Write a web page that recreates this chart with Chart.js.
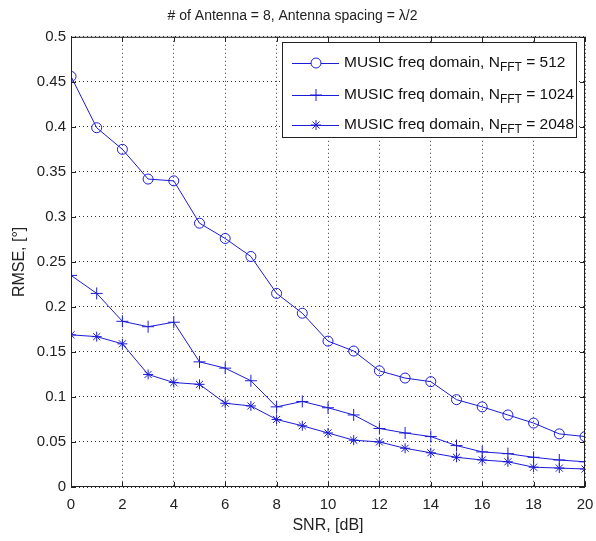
<!DOCTYPE html>
<html>
<head>
<meta charset="utf-8">
<script src="https://cdn.jsdelivr.net/npm/chart.js@4"></script>
<style>
  html, body { margin: 0; padding: 0; background: #fff; }
  #wrap { width: 596px; height: 541px; }
</style>
</head>
<body>
<div id="wrap"><canvas id="grafik" width="596" height="541"></canvas></div>
<script>
// SNR noktaları (dB)
const snrDegerleri = [0, 1, 2, 3, 4, 5, 6, 7, 8, 9, 10, 11, 12, 13, 14, 15, 16, 17, 18, 19, 20];

// RMSE değerleri, her N_FFT için
const rmse512 = [0.456, 0.399, 0.375, 0.342, 0.340, 0.293, 0.276, 0.256, 0.215, 0.193, 0.162, 0.151, 0.129, 0.121, 0.117, 0.097, 0.089, 0.080, 0.071, 0.059, 0.056];
const rmse1024 = [0.235, 0.215, 0.184, 0.178, 0.183, 0.139, 0.132, 0.118, 0.089, 0.095, 0.088, 0.080, 0.065, 0.060, 0.056, 0.046, 0.039, 0.037, 0.033, 0.030, 0.028];
const rmse2048 = [0.169, 0.167, 0.159, 0.125, 0.116, 0.114, 0.093, 0.090, 0.075, 0.068, 0.060, 0.052, 0.050, 0.043, 0.038, 0.033, 0.030, 0.028, 0.022, 0.021, 0.020];

const seriEtiketleri = ['512', '1024', '2048'];
const xTikleri = [0, 2, 4, 6, 8, 10, 12, 14, 16, 18, 20];
const yTikleri = [0, 0.05, 0.1, 0.15, 0.2, 0.25, 0.3, 0.35, 0.4, 0.45, 0.5];

const mavi = 'rgb(28,28,215)';
const yazıTipi = '"Liberation Sans", Arial, sans-serif';

// Matlab tarzı kutu ve içe dönük tik çizgileri
const kutuEklentisi = {
  id: 'kutu',
  afterDraw(chart) {
    const ctx = chart.ctx;
    const a = chart.chartArea;
    const xs = chart.scales.x, ys = chart.scales.y;
    ctx.save();
    ctx.strokeStyle = '#222';
    ctx.lineWidth = 1;
    ctx.strokeRect(a.left + 0.5, a.top + 0.5, a.right - a.left - 1, a.bottom - a.top - 1);
    ctx.beginPath();
    xTikleri.forEach(v => {
      const px = Math.round(xs.getPixelForValue(v)) + 0.5;
      ctx.moveTo(px, a.bottom); ctx.lineTo(px, a.bottom - 5);
      ctx.moveTo(px, a.top); ctx.lineTo(px, a.top + 5);
    });
    yTikleri.forEach(v => {
      const py = Math.round(ys.getPixelForValue(v)) + 0.5;
      ctx.moveTo(a.left, py); ctx.lineTo(a.left + 5, py);
      ctx.moveTo(a.right, py); ctx.lineTo(a.right - 5, py);
    });
    ctx.stroke();
    ctx.restore();
  }
};

// Alt simgeli (N_FFT) lejant
const lejantEklentisi = {
  id: 'lejant',
  afterDraw(chart) {
    const ctx = chart.ctx;
    const kx = 282, ky = 42, kw = 295, kh = 96;
    ctx.save();
    ctx.fillStyle = '#fff';
    ctx.fillRect(kx, ky, kw, kh);
    ctx.strokeStyle = '#222';
    ctx.lineWidth = 1;
    ctx.strokeRect(kx + 0.5, ky + 0.5, kw - 1, kh - 1);
    const satirlar = [63, 95, 125];
    chart.data.datasets.forEach((ds, i) => {
      const y = satirlar[i];
      ctx.strokeStyle = mavi;
      ctx.lineWidth = 1;
      ctx.beginPath();
      ctx.moveTo(292, y + 0.5);
      ctx.lineTo(339, y + 0.5);
      ctx.stroke();
      Chart.helpers.drawPoint(ctx, {
        pointStyle: ds.pointStyle, radius: ds.pointRadius, borderWidth: 1, rotation: 0
      }, 316, y);
      ctx.fillStyle = '#111';
      ctx.textBaseline = 'middle';
      ctx.font = '15.5px ' + yazıTipi;
      const ana = 'MUSIC freq domain, N';
      ctx.fillText(ana, 344, y);
      let x = 344 + ctx.measureText(ana).width;
      ctx.font = '12px ' + yazıTipi;
      ctx.fillText('FFT', x, y + 5);
      x += ctx.measureText('FFT').width;
      ctx.font = '15.5px ' + yazıTipi;
      ctx.fillText(' = ' + seriEtiketleri[i], x, y);
    });
    ctx.restore();
  }
};

function seri(veri, stil, yaricap) {
  return {
    label: 'MUSIC freq domain, N_FFT',
    data: veri,
    borderColor: mavi,
    backgroundColor: 'rgba(0,0,0,0)',
    borderWidth: 1,
    pointStyle: stil,
    pointRadius: yaricap,
    pointBorderColor: mavi,
    pointBackgroundColor: 'rgba(0,0,0,0)',
    pointBorderWidth: 1,
    tension: 0
  };
}

new Chart(document.getElementById('grafik'), {
  type: 'line',
  data: {
    labels: snrDegerleri,
    datasets: [
      seri(rmse512, 'circle', 5),
      seri(rmse1024, 'cross', 6),
      seri(rmse2048, 'star', 5)
    ]
  },
  options: {
    responsive: false,
    animation: false,
    layout: { padding: { left: 0, right: 11, top: 0, bottom: 0 } },
    scales: {
      x: {
        type: 'linear',
        min: 0,
        max: 20,
        afterFit: s => { s.height = 54; s.paddingLeft = 0; s.paddingRight = 0; },
        afterBuildTicks: s => { s.ticks = xTikleri.map(v => ({ value: v })); },
        ticks: { color: '#222', font: { family: yazıTipi, size: 15 }, padding: 9, maxRotation: 0 },
        grid: { color: '#333', drawTicks: false, lineWidth: 1 },
        border: { display: false, dash: [1, 3] },
        title: { display: true, text: 'SNR, [dB]', color: '#222', font: { family: yazıTipi, size: 16 }, padding: { top: 0, bottom: 6 } }
      },
      y: {
        type: 'linear',
        min: 0,
        max: 0.5,
        afterFit: s => { s.width = 71; s.paddingTop = 0; s.paddingBottom = 0; },
        afterBuildTicks: s => { s.ticks = yTikleri.map(v => ({ value: v })); },
        ticks: { color: '#222', font: { family: yazıTipi, size: 15 }, padding: 5, callback: v => String(+v.toFixed(2)) },
        grid: { color: '#333', drawTicks: false, lineWidth: 1 },
        border: { display: false, dash: [1, 3] },
        title: { display: true, text: 'RMSE, [°]', color: '#222', font: { family: yazıTipi, size: 16 }, padding: { top: 10, bottom: 0 } }
      }
    },
    plugins: {
      legend: { display: false },
      tooltip: { enabled: false },
      title: {
        display: true,
        text: '# of Antenna = 8, Antenna spacing = λ/2',
        color: '#222',
        font: { family: yazıTipi, size: 14, weight: 'normal' },
        padding: { top: 8, bottom: 12 }
      }
    }
  },
  plugins: [kutuEklentisi, lejantEklentisi]
});
</script>
</body>
</html>
